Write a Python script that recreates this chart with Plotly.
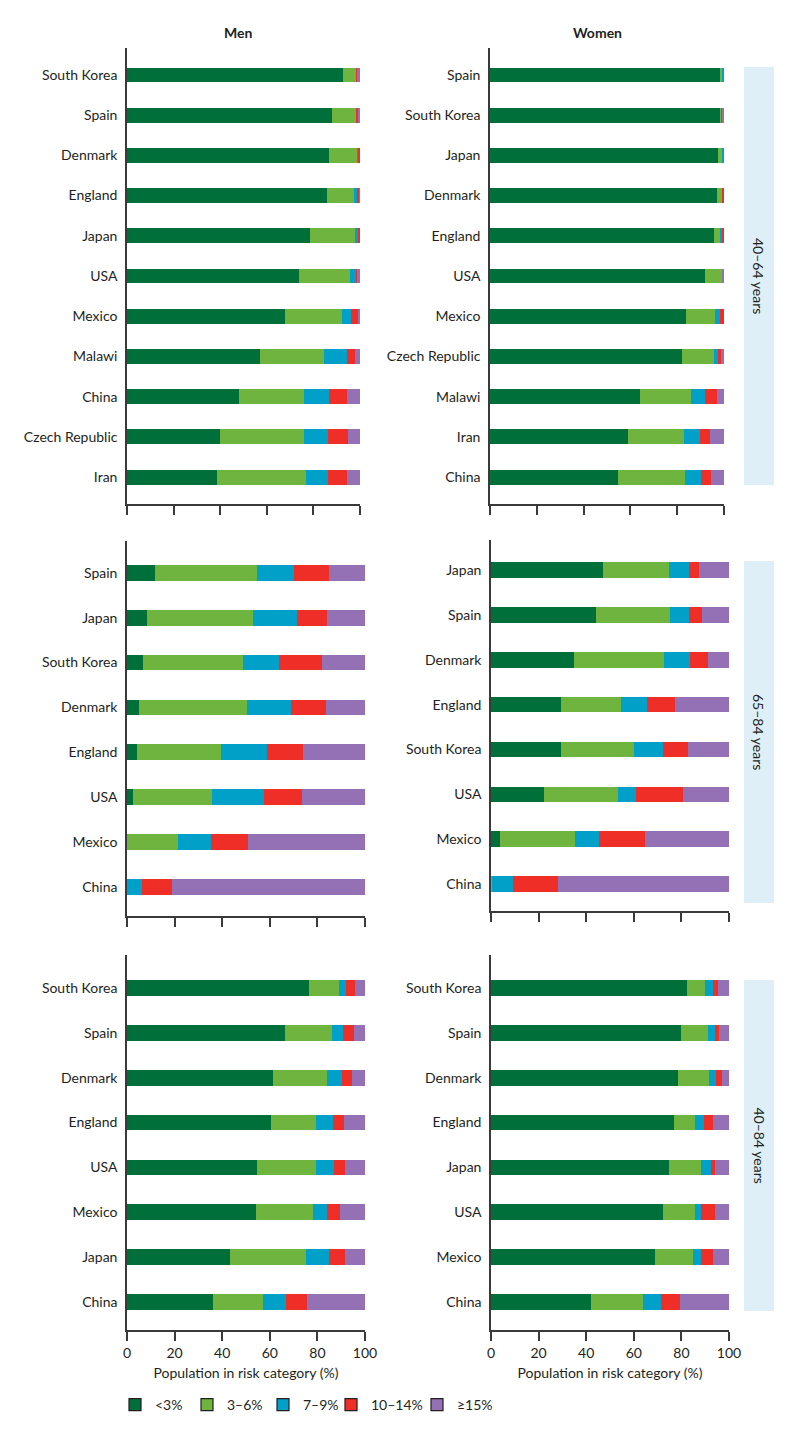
import plotly.graph_objects as go

# ---------------- data ----------------
categories = ["<3%", "3–6%", "7–9%", "10–14%", "≥15%"]
colors = ["#006F3A", "#6EB43F", "#00A0C8", "#EE2E27", "#9470B4"]

# Men, 40-64 years
men_4064_countries = ["South Korea", "Spain", "Denmark", "England", "Japan", "USA", "Mexico",
                      "Malawi", "China", "Czech Republic", "Iran"]
men_4064_lt3 = [92.6, 88.0, 86.6, 85.7, 78.6, 73.7, 67.9, 57.1, 48.0, 40.1, 38.7]
men_4064_3_6 = [6.1, 10.3, 12.3, 11.7, 19.3, 22.0, 24.5, 27.6, 27.9, 35.9, 38.2]
men_4064_7_9 = [0.0, 0.4, 0.5, 1.6, 1.2, 2.6, 3.7, 9.9, 11.0, 10.4, 9.5]
men_4064_10_14 = [0.2, 0.7, 0.6, 0.6, 0.9, 0.3, 3.0, 3.3, 7.5, 8.3, 8.0]
men_4064_ge15 = [1.1, 0.6, 0.0, 0.4, 0.0, 1.4, 0.9, 2.1, 5.6, 5.3, 5.6]

# Women, 40-64 years
women_4064_countries = ["Spain", "South Korea", "Japan", "Denmark", "England", "USA", "Mexico",
                        "Czech Republic", "Malawi", "Iran", "China"]
women_4064_lt3 = [98.4, 98.4, 97.6, 97.2, 95.7, 92.0, 83.8, 82.1, 64.0, 59.1, 54.8]
women_4064_3_6 = [0.7, 0.4, 1.5, 1.9, 2.6, 7.0, 12.4, 13.6, 21.9, 23.8, 28.5]
women_4064_7_9 = [0.9, 0.0, 0.9, 0.0, 0.7, 0.0, 2.1, 1.9, 6.0, 6.7, 6.9]
women_4064_10_14 = [0.0, 0.4, 0.0, 0.9, 1.0, 0.0, 1.7, 1.0, 5.0, 4.4, 4.2]
women_4064_ge15 = [0.0, 0.8, 0.0, 0.0, 0.0, 1.0, 0.0, 1.4, 3.1, 6.0, 5.6]

# Men, 65-84 years
men_6584_countries = ["Spain", "Japan", "South Korea", "Denmark", "England", "USA", "Mexico", "China"]
men_6584_lt3 = [11.6, 8.3, 6.7, 4.9, 4.2, 2.7, 0.0, 0.0]
men_6584_3_6 = [43.2, 44.7, 42.1, 45.6, 35.4, 33.1, 21.3, 0.0]
men_6584_7_9 = [15.3, 18.5, 15.1, 18.5, 19.4, 21.7, 14.2, 6.4]
men_6584_10_14 = [14.9, 12.7, 17.9, 14.8, 15.0, 16.2, 15.3, 12.5]
men_6584_ge15 = [15.0, 15.8, 18.2, 16.2, 26.0, 26.3, 49.2, 81.1]

# Women, 65-84 years
women_6584_countries = ["Japan", "Spain", "Denmark", "England", "South Korea", "USA", "Mexico", "China"]
women_6584_lt3 = [47.1, 44.0, 34.7, 29.6, 29.2, 22.3, 3.8, 0.0]
women_6584_3_6 = [27.7, 31.0, 37.9, 25.0, 31.0, 30.9, 31.6, 0.3]
women_6584_7_9 = [8.4, 8.2, 10.9, 11.0, 12.0, 7.6, 9.9, 9.0]
women_6584_10_14 = [4.2, 5.4, 7.8, 11.7, 10.5, 19.7, 19.6, 18.8]
women_6584_ge15 = [12.6, 11.4, 8.7, 22.7, 17.3, 19.5, 35.1, 71.9]

# Men, 40-84 years
men_4084_countries = ["South Korea", "Spain", "Denmark", "England", "USA", "Mexico", "Japan", "China"]
men_4084_lt3 = [76.4, 66.4, 61.4, 60.4, 54.5, 54.3, 43.4, 36.2]
men_4084_3_6 = [12.7, 19.8, 22.7, 18.9, 24.7, 23.7, 31.7, 21.0]
men_4084_7_9 = [2.8, 4.7, 6.1, 7.3, 7.8, 6.1, 9.9, 9.8]
men_4084_10_14 = [3.8, 4.5, 4.5, 4.6, 4.6, 5.4, 6.7, 8.7]
men_4084_ge15 = [4.3, 4.6, 5.3, 8.8, 8.4, 10.5, 8.3, 24.3]

# Women, 40-84 years
women_4084_countries = ["South Korea", "Spain", "Denmark", "England", "Japan", "USA", "Mexico", "China"]
women_4084_lt3 = [82.2, 79.9, 78.5, 76.8, 74.7, 72.2, 68.8, 41.9]
women_4084_3_6 = [7.8, 11.1, 12.9, 9.0, 13.6, 13.6, 15.9, 22.0]
women_4084_7_9 = [3.1, 3.1, 3.3, 3.9, 4.0, 2.5, 3.6, 7.6]
women_4084_10_14 = [2.4, 1.8, 2.5, 3.4, 1.8, 5.8, 4.8, 7.7]
women_4084_ge15 = [4.5, 4.1, 2.8, 6.9, 5.9, 5.9, 6.9, 20.8]

col_titles = ["Men", "Women"]
row_labels = ["40–64 years", "65–84 years", "40–84 years"]
x_ticks = [0, 20, 40, 60, 80, 100]
x_title = "Population in risk category (%)"

panels = [
    (men_4064_countries, [men_4064_lt3, men_4064_3_6, men_4064_7_9, men_4064_10_14, men_4064_ge15]),
    (women_4064_countries, [women_4064_lt3, women_4064_3_6, women_4064_7_9, women_4064_10_14, women_4064_ge15]),
    (men_6584_countries, [men_6584_lt3, men_6584_3_6, men_6584_7_9, men_6584_10_14, men_6584_ge15]),
    (women_6584_countries, [women_6584_lt3, women_6584_3_6, women_6584_7_9, women_6584_10_14, women_6584_ge15]),
    (men_4084_countries, [men_4084_lt3, men_4084_3_6, men_4084_7_9, men_4084_10_14, men_4084_ge15]),
    (women_4084_countries, [women_4084_lt3, women_4084_3_6, women_4084_7_9, women_4084_10_14, women_4084_ge15]),
]

# ---------------- layout geometry (page pixels) ----------------
W, H = 800, 1440


def px_x(p):
    return p / W


def px_y(p):
    return 1 - p / H


x_px = [(127, 360), (490, 724), (127, 365), (491, 729), (127, 365), (491, 729)]
y_px = [(48, 504), (48, 504), (541, 916), (540, 911), (955, 1330), (955, 1330)]
y_rng = [(10.67, -0.67), (10.67, -0.67), (7.65, -0.71), (7.6, -0.67), (7.625, -0.735), (7.625, -0.735)]
bar_w = [0.37, 0.37, 0.35, 0.35, 0.35, 0.35]
strip_px = [(67, 485), (561, 903), (980, 1311)]
legend_left_px = [115, 187, 263, 331, 417]

TXT = "#231f20"
AX = "#3a3a3a"
FONT = "Lato"

fig = go.Figure()

for k, (countries, series) in enumerate(panels):
    ax = "" if k == 0 else str(k + 1)
    for ci, vals in enumerate(series):
        fig.add_trace(go.Bar(
            x=vals, y=countries, orientation="h",
            name=categories[ci], marker=dict(color=colors[ci], line=dict(width=0)),
            width=bar_w[k], xaxis="x" + ax, yaxis="y" + ax,
            showlegend=False, legendgroup=categories[ci],
        ))

# legend entries (outlined boxes), one legend per item so each can be placed
legend_names = ["legend"] + ["legend%d" % i for i in range(2, 6)]
for ci, cat in enumerate(categories):
    fig.add_trace(go.Bar(
        x=[None], y=[None], orientation="h", name=cat,
        marker=dict(color=colors[ci], line=dict(color=TXT, width=1.2)),
        showlegend=True, legendgroup=cat, xaxis="x", yaxis="y",
        legend=legend_names[ci],
    ))

layout = dict(
    width=W, height=H, autosize=False,
    margin=dict(l=0, r=0, t=0, b=0, pad=0, autoexpand=False),
    paper_bgcolor="white", plot_bgcolor="white",
    barmode="stack",
    font=dict(family=FONT, size=14, color=TXT),
    showlegend=True,
)
for ci, ln in enumerate(legend_names):
    layout[ln] = dict(orientation="h", x=px_x(legend_left_px[ci]), xanchor="left",
                      y=px_y(1405), yanchor="middle", bgcolor="rgba(0,0,0,0)",
                      font=dict(size=14, color=TXT), itemclick=False, itemdoubleclick=False)

for k, (countries, series) in enumerate(panels):
    ax = "" if k == 0 else str(k + 1)
    x0, x1 = x_px[k]
    ytop, ybot = y_px[k]
    bottom_row = k >= 4
    layout["xaxis" + ax] = dict(
        domain=[px_x(x0), px_x(x1)], anchor="y" + ax, range=[0, 100],
        tickvals=x_ticks, ticks="outside", ticklen=9, tickwidth=1.5, tickcolor=AX,
        showline=True, linecolor=AX, linewidth=1.5, showgrid=False, zeroline=False,
        showticklabels=bottom_row, tickfont=dict(size=14, color=TXT),
        title=dict(text=x_title if bottom_row else "", font=dict(size=14, color=TXT), standoff=9),
        automargin=False, fixedrange=True,
    )
    layout["yaxis" + ax] = dict(
        domain=[px_y(ybot), px_y(ytop)], anchor="x" + ax, type="category",
        categoryorder="array", categoryarray=countries, range=list(y_rng[k]),
        showline=True, linecolor=AX, linewidth=1.5, ticks="", showgrid=False, zeroline=False,
        tickfont=dict(size=14, color=TXT), ticklabelstandoff=5,
        automargin=False, fixedrange=True,
    )

shapes = []
annotations = []
for r, (s0, s1) in enumerate(strip_px):
    shapes.append(dict(type="rect", xref="paper", yref="paper",
                       x0=px_x(744), x1=px_x(774), y0=px_y(s1), y1=px_y(s0),
                       fillcolor="#deeff8", line=dict(width=0), layer="below"))
    annotations.append(dict(text=row_labels[r], xref="paper", yref="paper",
                            x=px_x(759), y=px_y((s0 + s1) / 2), textangle=90,
                            showarrow=False, font=dict(size=14, color=TXT),
                            xanchor="center", yanchor="middle"))

annotations.append(dict(text="<b>" + col_titles[0] + "</b>", xref="paper", yref="paper",
                        x=px_x(238), y=px_y(32), xanchor="center", yanchor="middle",
                        showarrow=False, font=dict(size=14, color=TXT)))
annotations.append(dict(text="<b>" + col_titles[1] + "</b>", xref="paper", yref="paper",
                        x=px_x(597), y=px_y(32), xanchor="center", yanchor="middle",
                        showarrow=False, font=dict(size=14, color=TXT)))

layout["shapes"] = shapes
layout["annotations"] = annotations
fig.update_layout(**layout)

fig.write_html(
    "out.html",
    config={"displayModeBar": False, "responsive": False},
    post_script="document.body.style.margin='0';document.body.style.overflow='hidden';",
)
